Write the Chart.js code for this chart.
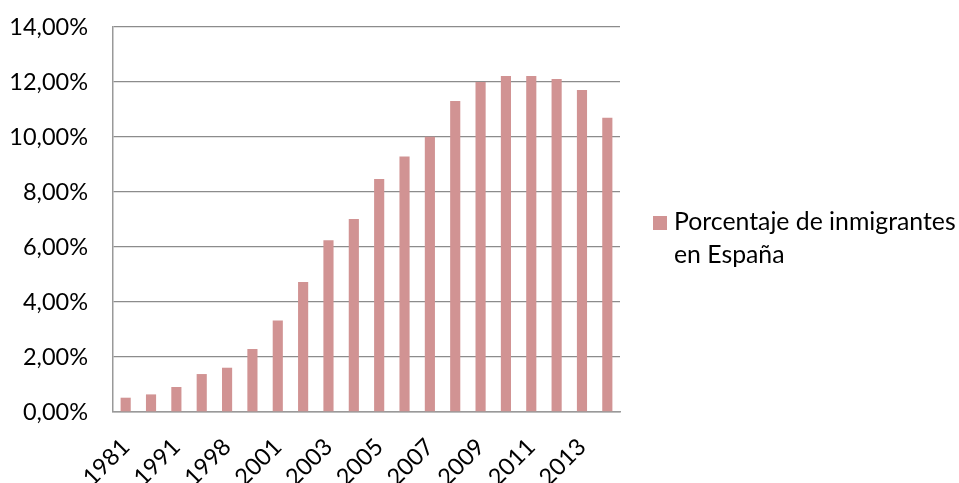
<!DOCTYPE html>
<html>
<head>
<meta charset="utf-8">
<script src="https://cdn.jsdelivr.net/npm/chart.js@4/dist/chart.umd.min.js"></script>
<style>
html,body{margin:0;padding:0;background:#fff;}
#wrap{width:959px;height:483px;position:relative;}
</style>
</head>
<body>
<div id="wrap"><canvas id="c" width="959" height="483"></canvas></div>
<script>
const categories = ['1981','1986','1991','1996','1998','2000','2001','2002','2003','2004','2005','2006','2007','2008','2009','2010','2011','2012','2013','2014'];
const values = [0.52,0.64,0.91,1.38,1.61,2.29,3.33,4.73,6.25,7.02,8.47,9.29,10.01,11.31,12.00,12.22,12.22,12.11,11.71,10.70];
const seriesLabel = ['Porcentaje de inmigrantes', 'en España'];
const yTicks = [0,2,4,6,8,10,12,14];

const FONT = 'Lato, "Open Sans", sans-serif';
const BAR = '#D19393';

const legendPlugin = {
  id: 'customLegend',
  afterDraw(chart) {
    const ctx = chart.ctx;
    const ds = chart.data.datasets[0];
    ctx.save();
    ctx.fillStyle = ds.backgroundColor;
    ctx.fillRect(653, 216, 14, 14);
    ctx.fillStyle = '#000';
    ctx.font = '24.8px ' + FONT;
    ctx.textBaseline = 'alphabetic';
    ctx.textAlign = 'left';
    ds.legendLines.forEach((t, i) => ctx.fillText(t, 674, 230 + i * 33));
    ctx.restore();
  }
};

new Chart(document.getElementById('c'), {
  type: 'bar',
  data: {
    labels: categories,
    datasets: [{
      label: seriesLabel.join(' '),
      legendLines: seriesLabel,
      data: values,
      backgroundColor: BAR,
      borderWidth: 0,
      categoryPercentage: 1,
      barPercentage: 0.4
    }]
  },
  options: {
    responsive: false,
    animation: false,
    events: [],
    layout: { padding: { left: 0, right: 339, top: 27, bottom: 0 } },
    plugins: { legend: { display: false }, tooltip: { enabled: false } },
    scales: {
      x: {
        grid: { display: false, drawTicks: false },
        border: { display: true, color: '#999', width: 1.5 },
        ticks: {
          autoSkip: false,
          maxRotation: 45,
          minRotation: 45,
          padding: 21,
          color: '#000',
          font: { family: FONT, size: 23.5 },
          callback: function(v, i) { return i % 2 === 0 ? categories[i] : ''; }
        },
        afterFit: function(s) { s.height = 71; s.paddingLeft = 0; s.paddingRight = 0; }
      },
      y: {
        min: 0,
        max: 14,
        afterBuildTicks: function(s) { s.ticks = yTicks.map(v => ({ value: v })); },
        grid: { color: '#8c8c8c', lineWidth: 1.3, drawTicks: false },
        border: { display: true, color: '#999', width: 1.5 },
        ticks: {
          padding: 25,
          color: '#000',
          font: { family: FONT, size: 23.5 },
          callback: function(v) { return v.toFixed(2).replace('.', ',') + '%'; }
        },
        afterFit: function(s) { s.width = 113; s.paddingTop = 0; s.paddingBottom = 0; }
      }
    }
  },
  plugins: [legendPlugin]
});
</script>
</body>
</html>
